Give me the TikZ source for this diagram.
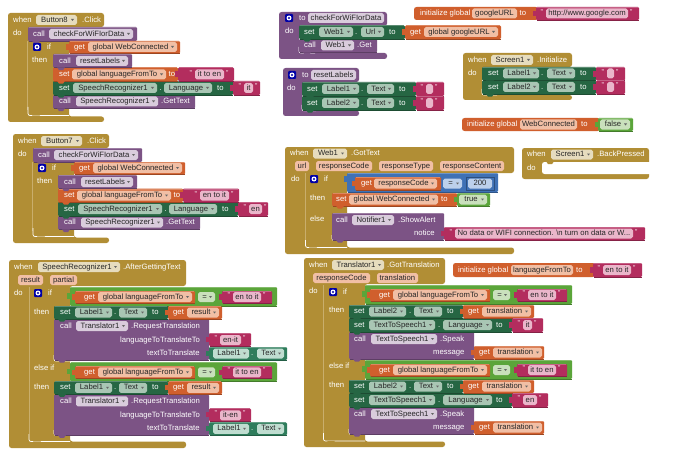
\documentclass[tikz,border=0pt]{standalone}
\usepackage{fontspec}
\setmainfont{Liberation Sans}
\definecolor{gold}{HTML}{B18E35}
\definecolor{goldl}{HTML}{C9AE6C}
\definecolor{purp}{HTML}{7C5385}
\definecolor{oran}{HTML}{D05F2D}
\definecolor{gren}{HTML}{266643}
\definecolor{pink}{HTML}{B32D5E}
\definecolor{lime}{HTML}{5BA53A}
\definecolor{blue2}{HTML}{3F71B5}
\definecolor{teal2}{HTML}{2F7D5C}
\definecolor{gf}{HTML}{E6DCBE}
\definecolor{pf}{HTML}{D9CCDC}
\definecolor{of}{HTML}{F1BFA5}
\definecolor{tf}{HTML}{A9C6B4}
\definecolor{kf}{HTML}{EAB6CA}
\definecolor{lf}{HTML}{C9E0BC}
\definecolor{bf}{HTML}{BCD0EB}
\definecolor{af}{HTML}{BFDDD0}
\newcount\txc
\tikzset{
  lab/.style={font=\fontsize{7.7}{8}\selectfont,text=white,inner sep=0pt,text height=5.6pt,text depth=1.5pt},
  fldtxt/.style={font=\fontsize{7.7}{8}\selectfont,text=black!85,inner sep=0pt,text height=5.6pt,text depth=1.5pt},
  fldbox/.style={rounded corners=1.8pt},
  blk/.style={rounded corners=1.2pt},
  edge/.style={line width=.4pt},
}
\newcommand{\Rc}[5]{\fill[blk,#5] (#1,#2) rectangle (#3,#4);
  \draw[edge,#5!75!white] (#1+1,#2+.2) -- (#3-1,#2+.2);
  \draw[edge,#5!75!black] (#1+1,#4-.2) -- (#3-.5,#4-.2);}
\newcommand{\Tx}[3]{\global\advance\txc by 1
  \node[lab,anchor=west] (t\the\txc) at (#1,#2) {#3};}
\newcommand{\Fd}[5]{\global\advance\txc by 1
  \fill[fldbox,#5] (#1,#3-5) rectangle (#2,#3+5);
  \node[fldtxt] (t\the\txc) at ({(#1+#2)/2-2},#3) {#4};
  \fill[black!60] ({#2-6},#3-1) -- ({#2-3},#3-1) -- ({#2-4.5},#3+1) -- cycle;}
\newcommand{\Fn}[5]{\global\advance\txc by 1
  \fill[fldbox,#5] (#1,#3-5) rectangle (#2,#3+5);
  \node[fldtxt] (t\the\txc) at ({(#1+#2)/2},#3) {#4};}
\newcommand{\Qs}[4]{\Tx{#2-5.5}{#1-1.5}{\scriptsize ''}\Fn{#2}{#3}{#1}{#4}{kf}\Tx{#3+2}{#1-1.5}{\scriptsize ''}}
\newcommand{\Bp}[3]{\fill[#3] (#1+4,#2-.2) -- (#1+6,#2+2.6) -- (#1+10,#2+2.6) -- (#1+12,#2-.2) -- cycle;}
\newcommand{\Nt}[3]{\fill[#3] (#1+.5,#2-2.6) -- (#1-2.6,#2-2.6) -- (#1-2.6,#2+2.6) -- (#1+.5,#2+2.6) -- cycle;}
\newcommand{\Ic}[2]{\fill[rounded corners=1pt,blue!65!black] (#1,#2-4) rectangle (#1+8,#2+4);
  \fill[white] (#1+4,#2) circle (2.5);\fill[blue!65!black] (#1+4,#2) circle (1.1);}
\newcommand{\Hl}[4]{\draw[white,line width=.7pt,rounded corners=2pt] (#1,#2)--(#1,#4)--(#3,#4);}
\newcommand{\clickblk}[5]{%
  \fill[gold,rounded corners=2.5pt] (8,13) -- (104,13) -- (104,27) -- (69,27) -- (69,116.5) -- (104,116.5) -- (104,122) -- (8,122) -- cycle;
  \draw[goldl,line width=.5pt] (27.5,41) -- (27.5,110);
  \Hl{28}{107}{69}{115.5}
  \Bp{28}{115.5}{gold}
  \Tx{13}{20}{when}\Fd{36}{77}{20}{#1}{gf}\Tx{82}{20}{.Click}
  \Tx{13}{33.5}{do}
  \Rc{28}{27}{137}{41}{purp}\Bp{28}{41}{purp}
  \Tx{33}{34}{call}\Fd{49}{133}{34}{checkForWiFIorData}{pf}
  \Ic{33}{47}\Tx{47}{47}{if}\Tx{32}{60}{then}
  \Rc{69}{41}{180}{53.5}{oran}\Nt{69}{47}{oran}
  \Tx{74}{47}{get}\Fd{88}{177}{47}{global WebConnected}{of}
  \Rc{53}{95}{195}{108.5}{purp}\Bp{53}{108.5}{purp}
  \Rc{53}{81}{233}{95}{gren}\Bp{53}{95}{gren}
  \Rc{233}{81}{#4}{95}{pink}\Nt{233}{88}{pink}
  \Rc{53}{67.5}{178}{81}{oran}\Bp{53}{81}{oran}
  \Rc{178}{67.5}{234}{81}{pink}\Nt{178}{74}{pink}
  \Rc{53}{54}{132}{67.5}{purp}\Bp{53}{67.5}{purp}
  \Tx{59}{61}{call}\Fd{76}{128}{61}{resetLabels}{pf}
  \Tx{59}{74.5}{set}\Fd{72}{166}{74.5}{global languageFromTo}{of}\Tx{168.5}{74.5}{to}
  \Qs{74.5}{195}{224}{#2}
  \Tx{59}{88}{set}\Fd{73}{157}{88}{SpeechRecognizer1}{tf}\Tx{159.5}{88}{.}\Fd{164}{212}{88}{Language}{tf}\Tx{217}{88}{to}
  \Qs{88}{244}{#5}{#3}
  \Tx{59}{101.5}{call}\Fd{76}{158}{101.5}{SpeechRecognizer1}{pf}\Tx{161}{101.5}{.GetText}
}
\newcommand{\condrow}[1]{%
  \Rc{70}{287}{277}{306}{lime}\Nt{70}{296}{lime}
  \Rc{75}{291}{195}{303.5}{oran}\Nt{75}{297}{oran}
  \Tx{84}{297}{get}\Fd{98}{192}{297}{global languageFromTo}{of}
  \Fd{198}{215}{297}{=}{lf}
  \Rc{222}{291}{272}{303.5}{pink}\Nt{222}{297}{pink}
  \Qs{297}{233}{261}{#1}
}
\newcommand{\speechbranch}[2]{%
  \condrow{#1}
  \Tx{34}{312.5}{then}
  \Rc{54}{319}{209}{360}{purp}\Bp{54}{360}{purp}
  \Rc{54}{306}{168}{319}{gren}\Bp{54}{319}{gren}
  \Rc{168}{306}{222}{319}{oran}\Nt{168}{312.5}{oran}
  \Tx{60}{312.5}{set}\Fd{75}{112}{312.5}{Label1}{tf}\Tx{114}{312.5}{.}\Fd{119}{147}{312.5}{Text}{tf}\Tx{152}{312.5}{to}
  \Tx{173}{312.5}{get}\Fd{187}{219}{312.5}{result}{of}
  \Tx{60}{326}{call}\Fd{76}{128}{326}{Translator1}{pf}\Tx{131}{326}{.RequestTranslation}
  \Tx{120}{340}{languageToTranslateTo}\Tx{147}{353.5}{textToTranslate}
  \Rc{209}{333}{251}{346}{pink}\Nt{209}{339.5}{pink}
  \Qs{340}{220}{241}{#2}
  \Rc{209}{347}{287}{360}{teal2}\Nt{209}{353.5}{teal2}
  \Fd{213}{249}{353.5}{Label1}{af}\Tx{251}{353.5}{.}\Fd{257}{284}{353.5}{Text}{af}
}
\newcommand{\transbranch}[4]{%
  \begin{scope}[shift={(295,-2)}]\condrow{#1}\end{scope}
  \Tx{329}{310.5}{then}
  \Rc{349}{332}{474}{359}{purp}\Bp{349}{359}{purp}
  \Rc{349}{318}{512}{332}{gren}\Bp{349}{332}{gren}
  \Rc{349}{305}{463}{318}{gren}\Bp{349}{318}{gren}
  \Rc{463}{305}{534}{318}{oran}\Nt{463}{311.5}{oran}
  \Tx{354}{311.5}{set}\Fd{369}{406}{311.5}{#4}{tf}\Tx{409}{311.5}{.}\Fd{414}{442}{311.5}{Text}{tf}\Tx{447}{311.5}{to}
  \Tx{468}{311.5}{get}\Fd{482}{531}{311.5}{translation}{of}
  \Rc{512}{318}{#3}{332}{pink}\Nt{512}{325}{pink}
  \Tx{354}{325}{set}\Fd{369}{435}{325}{TextToSpeech1}{tf}\Tx{438}{325}{.}\Fd{443}{492}{325}{Language}{tf}\Tx{496}{325}{to}
  \Qs{325}{523}{#3-11}{#2}
  \Tx{354}{339}{call}\Fd{371}{437}{339}{TextToSpeech1}{pf}\Tx{440}{339}{.Speak}
  \Tx{433}{352.5}{message}
  \Rc{474}{346}{544}{359}{oran}\Nt{474}{352.5}{oran}
  \Tx{479}{352.5}{get}\Fd{493}{542}{352.5}{translation}{of}
}
\begin{document}
\begin{tikzpicture}[x=1pt,y=-1pt]
\useasboundingbox (0,0) rectangle (690,468);
\fill[white] (0,0) rectangle (690,468);

\clickblk{Button8}{it to en}{it}{260}{253}
\begin{scope}[shift={(5,121)}]
\clickblk{Button7}{en to it}{en}{263}{257}
\end{scope}

% procedure checkForWiFIorData
\fill[purp,rounded corners=2.5pt] (279,12) -- (387,12) -- (387,26) -- (299,26) -- (299,53) -- (387,53) -- (387,59) -- (279,59) -- cycle;
\Hl{299}{47}{315}{53}
\Rc{299}{39}{377}{52.5}{purp}\Bp{299}{52.5}{purp}
\Rc{299}{25.5}{405}{39}{gren}\Bp{299}{39}{gren}
\Rc{405}{25.5}{501}{39}{oran}\Nt{405}{32}{oran}
\Ic{285}{18}\Tx{299}{18}{to}\Fn{308}{384}{18}{checkForWiFIorData}{pf}
\Tx{285}{31.5}{do}
\Tx{304}{32}{set}\Fd{319}{353}{32}{Web1}{tf}\Tx{355}{32}{.}\Fd{361}{384}{32}{Url}{tf}\Tx{389}{32}{to}
\Tx{410}{32}{get}\Fd{424}{498}{32}{global googleURL}{of}
\Tx{304}{45.5}{call}\Fd{321}{354}{45.5}{Web1}{pf}\Tx{357}{45.5}{.Get}

% init googleURL
\fill[oran,rounded corners=2.5pt] (414,7) rectangle (538,20);
\Rc{536}{7}{639}{20}{pink}\Nt{536}{13.5}{pink}
\Tx{420}{13.5}{initialize global}\Fn{472}{517}{13.5}{googleURL}{of}\Tx{519.5}{13.5}{to}
\Qs{13.5}{546}{628}{http://www.google.com}

% procedure resetLabels
\fill[purp,rounded corners=2.5pt] (283,68) -- (359,68) -- (359,82) -- (302,82) -- (302,110.5) -- (359,110.5) -- (359,116) -- (283,116) -- cycle;
\Hl{302}{105}{316}{110.8}
\Rc{302}{96}{416}{110}{gren}\Bp{302}{110}{gren}
\Rc{302}{82}{416}{96}{gren}\Bp{302}{96}{gren}
\Rc{416}{82}{444}{96}{pink}\Nt{416}{89}{pink}
\Rc{416}{96}{444}{110}{pink}\Nt{416}{103}{pink}
\Ic{288}{75}\Tx{302}{75}{to}\Fn{311}{356}{75}{resetLabels}{pf}
\Tx{287}{88}{do}
\Tx{307}{89}{set}\Fd{322}{359}{89}{Label1}{tf}\Tx{361}{89}{.}\Fd{367}{394}{89}{Text}{tf}\Tx{399}{89}{to}\Qs{89}{426}{433}{}
\Tx{307}{103}{set}\Fd{322}{359}{103}{Label2}{tf}\Tx{361}{103}{.}\Fd{367}{394}{103}{Text}{tf}\Tx{399}{103}{to}\Qs{103}{426}{433}{}

% Screen1.Initialize
\fill[gold,rounded corners=2.5pt] (463,53) -- (572,53) -- (572,67) -- (482,67) -- (482,95) -- (572,95) -- (572,100) -- (463,100) -- cycle;
\Hl{482}{89}{497}{95}
\Rc{482}{80.5}{596}{94}{gren}\Bp{482}{94}{gren}
\Rc{482}{67}{596}{80.5}{gren}\Bp{482}{80.5}{gren}
\Rc{596}{67}{625}{80.5}{pink}\Nt{596}{74}{pink}
\Rc{596}{80.5}{625}{94}{pink}\Nt{596}{87}{pink}
\Tx{468}{60}{when}\Fd{491}{533}{60}{Screen1}{gf}\Tx{537}{60}{.Initialize}
\Tx{468}{73}{do}
\Tx{488}{73.5}{set}\Fd{503}{539}{73.5}{Label1}{tf}\Tx{541}{73.5}{.}\Fd{547}{575}{73.5}{Text}{tf}\Tx{580}{73.5}{to}\Qs{73.5}{607}{614}{}
\Tx{488}{87}{set}\Fd{503}{539}{87}{Label2}{tf}\Tx{541}{87}{.}\Fd{547}{575}{87}{Text}{tf}\Tx{580}{87}{to}\Qs{87}{607}{614}{}

% init WebConnected
\fill[oran,rounded corners=2.5pt] (462,118) rectangle (600,131);
\Rc{598}{118}{633}{131}{lime}\Nt{598}{124.5}{lime}
\Tx{467}{124.5}{initialize global}\Fn{520}{577}{124.5}{WebConnected}{of}\Tx{581}{124.5}{to}
\Fd{600}{630}{124.5}{false}{lf}

% Web1.GotText
\fill[gold,rounded corners=2.5pt] (285,147) -- (514,147) -- (514,173) -- (347,173) -- (347,192) -- (347,247.5) -- (514,247.5) -- (514,254) -- (285,254) -- cycle;
\draw[goldl,line width=.5pt] (305.5,173) -- (305.5,240);
\Hl{305.5}{240}{347}{247.5}
\Bp{305}{247.5}{gold}
\Hl{332}{235}{347}{240.5}
\Rc{347}{173}{498}{192}{blue2}\Nt{347}{179}{blue2}
\Rc{355}{177}{441}{190}{oran}\Nt{355}{183.5}{oran}
\Rc{332}{193}{457}{206}{oran}\Bp{332}{206}{oran}
\Rc{457}{193}{490}{206}{lime}\Nt{457}{199.5}{lime}
\Rc{332}{213}{444}{240}{purp}\Bp{332}{240}{purp}
\Rc{444}{227}{645}{240}{pink}\Nt{444}{233.5}{pink}
\Tx{290}{153.5}{when}\Fd{313}{347}{153.5}{Web1}{gf}\Tx{351}{153.5}{.GotText}
\Fn{295}{309}{166}{url}{of}\Fn{316}{372}{166}{responseCode}{of}\Fn{379}{433}{166}{responseType}{of}\Fn{440}{504}{166}{responseContent}{of}
\Tx{291}{179}{do}\Ic{310}{179}\Tx{324}{179}{if}
\Tx{361}{183.5}{get}\Fd{374}{437}{183.5}{responseCode}{of}
\Fd{443}{462}{183.5}{=}{bf}
\draw[blue2!70!black,line width=.4pt] (466,177) rectangle (494,190);
\Fn{468}{492}{183.5}{200}{bf}
\Tx{310}{198}{then}\Tx{310}{219}{else}
\Tx{336}{199.5}{set}\Fd{349}{438}{199.5}{global WebConnected}{of}\Tx{441}{199.5}{to}\Fd{459}{487}{199.5}{true}{lf}
\Tx{336}{220}{call}\Fd{352}{394}{220}{Notifier1}{pf}\Tx{398}{220}{.ShowAlert}
\Tx{414}{233.5}{notice}
\Qs{233.5}{455}{633}{No data or WIFI connection. \textbackslash n turn on data or W...}

% Screen1.BackPressed
\fill[gold,rounded corners=2.5pt] (522,148) -- (649,148) -- (649,179) -- (522,179) -- cycle;
\fill[white,rounded corners=2.5pt] (542,162) rectangle (652,174);
\fill[white] (646,162) rectangle (650,174);
\Bp{542}{161.5}{gold}
\Tx{527}{154.5}{when}\Fd{551}{593}{154.5}{Screen1}{gf}\Tx{597}{154.5}{.BackPressed}
\Tx{527}{168}{do}

% SpeechRecognizer1.AfterGettingText
\fill[gold,rounded corners=2.5pt] (9,260) -- (186,260) -- (186,286) -- (70,286) -- (70,441.5) -- (186,441.5) -- (186,448) -- (9,448) -- cycle;
\draw[goldl,line width=.5pt] (29,287) -- (29,434);
\Hl{29}{434}{70}{441.5}
\Bp{29}{441.5}{gold}
\Hl{54}{430}{70}{435.5}
\Tx{14}{267}{when}\Fd{38}{120}{267}{SpeechRecognizer1}{gf}\Tx{123}{267}{.AfterGettingText}
\Fn{18}{43}{280}{result}{of}\Fn{50}{77}{280}{partial}{of}
\Tx{14}{293}{do}\Ic{34}{293}\Tx{48}{293}{if}
\begin{scope}[shift={(0,75.3)}]\speechbranch{it to en}{it-en}\end{scope}
\Hl{54}{355}{70}{361}
\speechbranch{en to it}{en-it}
\Tx{34}{368}{else if}

% Translator1.GotTranslation
\fill[gold,rounded corners=2.5pt] (304,258) -- (445,258) -- (445,284) -- (365,284) -- (365,441.5) -- (445,441.5) -- (445,447) -- (304,447) -- cycle;
\draw[goldl,line width=.5pt] (323.5,285) -- (323.5,433);
\Hl{323.5}{433}{365}{441}
\Bp{323}{441}{gold}
\Hl{349}{429}{365}{434.5}
\Tx{309}{265}{when}\Fd{332}{384}{265}{Translator1}{gf}\Tx{387}{265}{.GotTranslation}
\Fn{313}{370}{278}{responseCode}{of}\Fn{377}{418}{278}{translation}{of}
\Tx{309}{291}{do}\Ic{329}{292}\Tx{343}{292}{if}
\begin{scope}[shift={(0,75)}]\transbranch{it to en}{en}{548}{Label2}\end{scope}
\transbranch{en to it}{it}{543}{Label2}
\Tx{329}{366}{else if}

% init languageFromTo
\fill[oran,rounded corners=2.5pt] (453,263) rectangle (595,277);
\Rc{593}{263}{642}{277}{pink}\Nt{593}{270}{pink}
\Tx{458}{270}{initialize global}\Fn{511}{573}{270}{languageFromTo}{of}\Tx{576}{270}{to}
\Qs{270}{603}{631}{en to it}
\end{tikzpicture}
\end{document}
